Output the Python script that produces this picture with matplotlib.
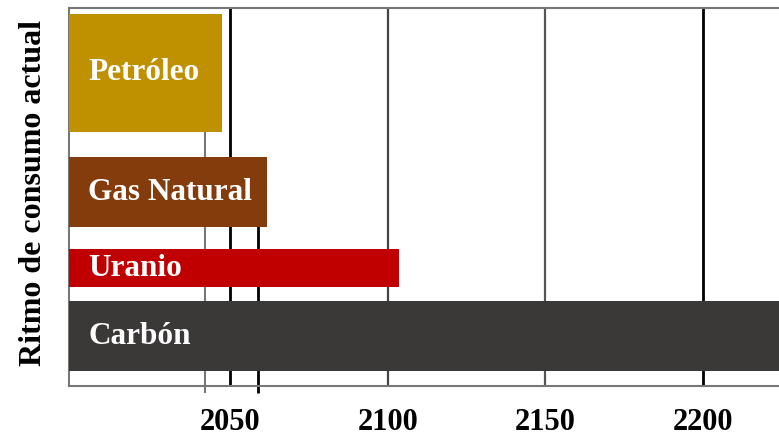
import matplotlib
matplotlib.use("Agg")
import matplotlib.pyplot as plt

# ---- data ----
sources = ["Petróleo", "Gas Natural", "Uranio", "Carbón"]
end_years = [2047.6, 2061.6, 2103.5, 2240]
consumption_rate = [118, 70, 38, 70]          # relative bar thickness
bar_colors = ["#BF9000", "#843C0C", "#C00000", "#3B3838"]
start_year = 1999
year_ticks = [2050, 2100, 2150, 2200]
tick_labels = ["2050", "2100", "2150", "2200"]
grid_colors = ["#000000", "#444444", "#555555", "#000000"]
grid_widths = [2.0, 1.6, 1.6, 2.0]
marker_years = [2042, 2059]
ylabel = "Ritmo de consumo actual"

# ---- layout constants ----
gaps = [6, 25, 22, 14, 15]
x_right = 2224

plt.rcParams["font.family"] = ["Liberation Serif", "DejaVu Serif"]
plt.rcParams["font.weight"] = "bold"

fig = plt.figure(figsize=(7.79, 4.37), dpi=100)
ax = fig.add_axes([69 / 779, (437 - 386) / 437, 710 / 779, 378 / 437])

# bar positions from thickness + gaps
tops, centers = [], []
y = gaps[0]
for i, h in enumerate(consumption_rate):
    tops.append(y)
    centers.append(y + h / 2)
    y += h + gaps[i + 1]
total = y

for name, end, h, c, yc in zip(sources, end_years, consumption_rate, bar_colors, centers):
    ax.barh(yc, end - start_year, left=start_year, height=h, color=c, zorder=3)
    ax.annotate(name, xy=(start_year, yc), xytext=(14, 0), textcoords="offset points",
                ha="left", va="center", color="white", fontsize=22.5,
                fontweight="bold", zorder=4)

# grid lines at tick years
for x, gc, lw in zip(year_ticks, grid_colors, grid_widths):
    ax.axvline(x, color=gc, lw=lw, zorder=1)

# marker lines (start below Petróleo / top of Gas Natural)
ax.vlines(marker_years[0], tops[0] + consumption_rate[0], total + 7, color="#777777",
          lw=1.5, zorder=1, clip_on=False)
ax.vlines(marker_years[1], tops[1], total + 7, color="#000000",
          lw=2.0, zorder=1, clip_on=False)

ax.set_xlim(start_year, x_right)
ax.set_ylim(total, 0)
ax.set_yticks([])
ax.set_xticks(year_ticks)
ax.set_xticklabels(tick_labels, fontsize=22, fontweight="bold")
ax.tick_params(axis="x", length=0, pad=16)

for s in ["left", "bottom", "top"]:
    ax.spines[s].set_color("#777777")
    ax.spines[s].set_linewidth(1.5)
ax.spines["right"].set_visible(False)

ax.set_ylabel(ylabel, fontsize=23, fontweight="bold", va="center")
ax.yaxis.set_label_coords((34 - 69) / 710, 0.51)

fig.savefig("out.png", dpi=100)
